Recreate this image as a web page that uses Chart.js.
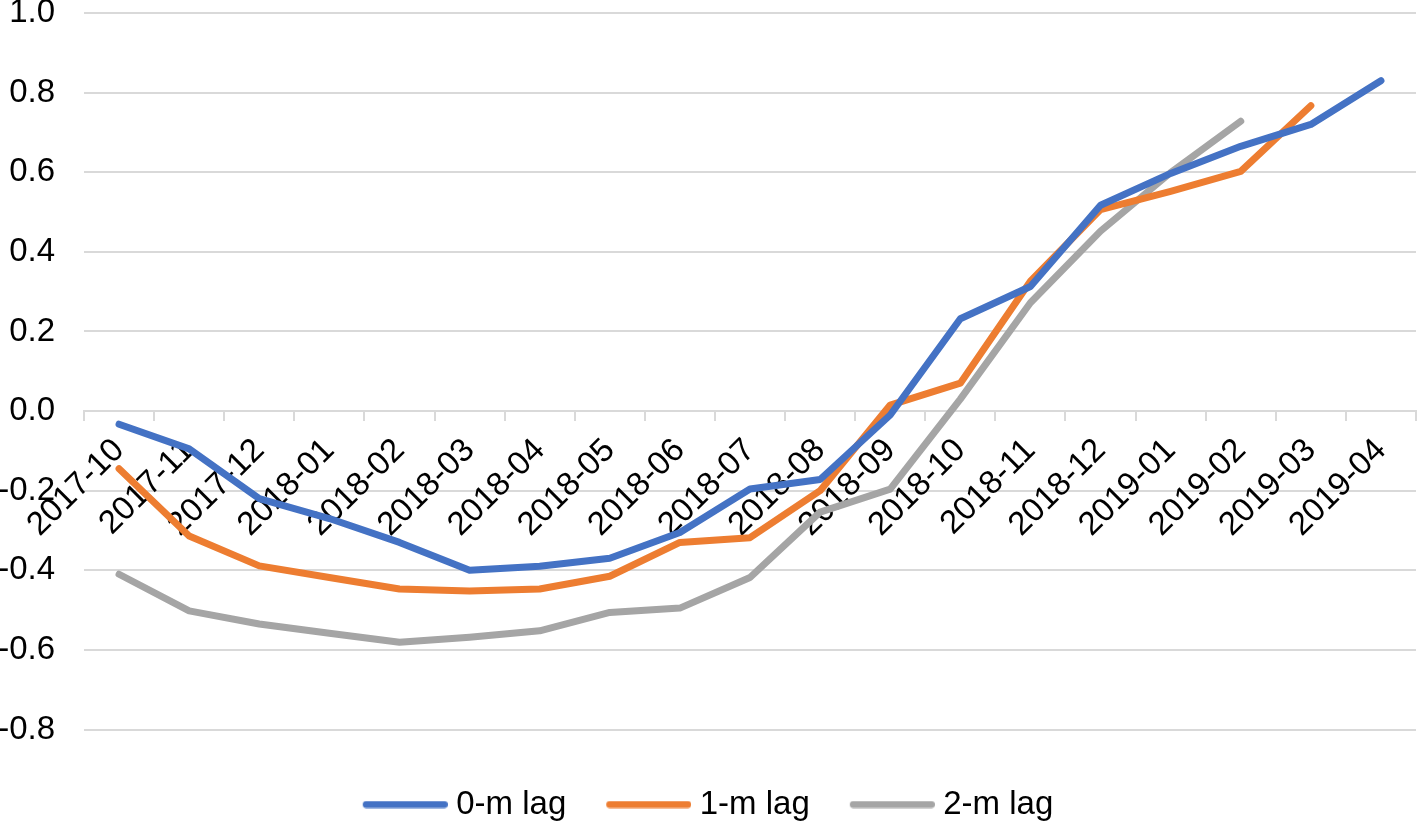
<!DOCTYPE html>
<html>
<head>
<meta charset="utf-8">
<script src="https://cdn.jsdelivr.net/npm/chart.js@4.4.1/dist/chart.umd.min.js"></script>
<style>
  html, body { margin: 0; padding: 0; background: #fff; }
  #wrap { width: 1418px; height: 824px; }
</style>
</head>
<body>
<div id="wrap"><canvas id="lagChart"></canvas></div>
<script>
// months on the x axis
const months = ['2017-10', '2017-11', '2017-12', '2018-01', '2018-02', '2018-03', '2018-04',
  '2018-05', '2018-06', '2018-07', '2018-08', '2018-09', '2018-10', '2018-11', '2018-12',
  '2019-01', '2019-02', '2019-03', '2019-04'];

// values
const lag0 = [-0.033, -0.095, -0.22, -0.27, -0.33, -0.40, -0.39, -0.37, -0.305, -0.196, -0.172,
  -0.01, 0.232, 0.313, 0.517, 0.597, 0.665, 0.72, 0.83];
const lag1 = [-0.145, -0.314, -0.389, -0.418, -0.447, -0.452, -0.447, -0.415, -0.33, -0.318,
  -0.2, 0.015, 0.07, 0.326, 0.506, 0.552, 0.602, 0.767];
const lag2 = [-0.41, -0.502, -0.535, -0.558, -0.581, -0.568, -0.552, -0.506, -0.495, -0.418,
  -0.254, -0.196, 0.03, 0.272, 0.452, 0.599, 0.728];

const yTicks = [-0.8, -0.6, -0.4, -0.2, 0.0, 0.2, 0.4, 0.6, 0.8, 1.0];

const FONT = 'Liberation Sans, Arial, Helvetica, sans-serif';

// legend swatch: an 85px rounded line, drawn a bit left of the box so the text sits close
function legendLine(color) {
  const c = document.createElement('canvas');
  c.width = 93;
  c.height = 8;
  const g = c.getContext('2d');
  g.strokeStyle = color;
  g.lineWidth = 7;
  g.lineCap = 'round';
  g.beginPath();
  g.moveTo(11.5, 4);
  g.lineTo(89.5, 4);
  g.stroke();
  return c;
}

function lineSet(label, data, color) {
  return {
    label: label,
    data: data,
    borderColor: color,
    backgroundColor: color,
    borderWidth: 7,
    borderCapStyle: 'round',
    borderJoinStyle: 'round',
    pointRadius: 0,
    pointHoverRadius: 0,
    pointStyle: legendLine(color),
    tension: 0,
    fill: false
  };
}

document.addEventListener('DOMContentLoaded', () => {
  const ctx = document.getElementById('lagChart').getContext('2d');
  new Chart(ctx, {
    type: 'line',
    data: {
      labels: months,
      datasets: [
        lineSet('0-m lag', lag0, '#4472C4'),
        lineSet('1-m lag', lag1, '#ED7D31'),
        lineSet('2-m lag', lag2, '#A5A5A5')
      ]
    },
    options: {
      responsive: true,
      maintainAspectRatio: false,
      animation: false,
      layout: { padding: { top: 0, right: 2, bottom: -7, left: 0 } },
      plugins: {
        tooltip: { enabled: false },
        legend: {
          position: 'bottom',
          title: { display: true, text: '', font: { size: 10, lineHeight: 1 }, padding: { top: 8.5, bottom: 0 } },
          labels: {
            color: '#000',
            font: { family: FONT, size: 33 },
            usePointStyle: true,
            pointStyleWidth: 77,
            padding: 40
          }
        }
      },
      scales: {
        x: {
          position: { y: 0 },
          offset: true,
          afterFit: (scale) => {
            // the axis sits on the zero line, so it should not eat layout space
            scale.height = 0;
            scale.paddingLeft = 0;
            scale.paddingRight = 0;
          },
          border: { display: true, color: '#D9D9D9', width: 2 },
          grid: {
            offset: true,
            drawOnChartArea: false,
            drawTicks: true,
            tickLength: 9,
            color: '#D9D9D9',
            lineWidth: 2
          },
          ticks: {
            color: '#000',
            font: { family: FONT, size: 33 },
            autoSkip: false,
            minRotation: 45,
            maxRotation: 45,
            padding: 11
          }
        },
        y: {
          min: -0.8,
          max: 1.0,
          afterBuildTicks: (scale) => {
            scale.ticks = yTicks.map(v => ({ value: v }));
          },
          afterFit: (scale) => {
            scale.width = 84;
            scale.paddingTop = 13;
            scale.paddingBottom = 0;
          },
          border: { display: false },
          grid: { color: '#D9D9D9', lineWidth: 2, drawTicks: false },
          ticks: {
            color: '#000',
            font: { family: FONT, size: 33 },
            padding: 29,
            callback: (v) => Number(v).toFixed(1)
          }
        }
      }
    }
  });
});
</script>
</body>
</html>
